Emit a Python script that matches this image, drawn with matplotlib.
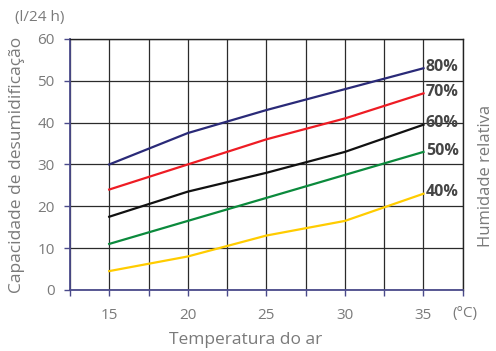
import matplotlib
matplotlib.use("Agg")
import matplotlib.pyplot as plt
import numpy as np

plt.rcParams['font.family'] = ['Open Sans', 'DejaVu Sans']

# temperature (C) and dehumidification capacity (l/24h) per relative humidity
temps = [15, 20, 25, 30, 35]
rh_labels = ['80%', '70%', '60%', '50%', '40%']
cap_80 = [30, 37.5, 43, 48, 53]
cap_70 = [24, 30, 36, 41, 47]
cap_60 = [17.5, 23.5, 28, 33, 39.5]
cap_50 = [11, 16.5, 22, 27.5, 33]
cap_40 = [4.5, 8, 13, 16.5, 23]
series = [cap_80, cap_70, cap_60, cap_50, cap_40]
colors = ['#2a2a78', '#ee1c24', '#111111', '#0b8a3c', '#ffcc00']

TEXT = '#7a7a7a'

fig = plt.figure(figsize=(4.96, 3.51), dpi=100)
ax = fig.add_axes([0.141, 0.174, 0.792, 0.715])

for ys, c, lab in zip(series, colors, rh_labels):
    ax.plot(temps, ys, color=c, lw=1.6, zorder=3)
    ax.text(temps[-1] + 0.15, ys[-1] + 0.3, lab, color='#454545', fontsize=11.5,
            fontweight='bold', va='center', ha='left')

ax.set_xlim(12.5, 37.5)
ax.set_ylim(0, 60)
ax.set_xticks(np.arange(12.5, 37.6, 2.5), minor=True)
ax.set_xticks([15, 20, 25, 30, 35])
ax.set_yticks(np.arange(0, 61, 10))
ax.grid(True, which='both', color='#2b2b2b', lw=0.9, zorder=1)
ax.tick_params(axis='both', which='both', colors='#4a4a8a', labelcolor=TEXT,
               labelsize=11, length=4, width=1)
ax.tick_params(axis='x', which='major', pad=9)
ax.tick_params(axis='y', pad=7)

for side in ['left', 'bottom']:
    ax.spines[side].set_color('#4a4a8a')
    ax.spines[side].set_linewidth(1.3)
for side in ['top', 'right']:
    ax.spines[side].set_color('#222222')
    ax.spines[side].set_linewidth(1)

fig.text(0.03, 0.95, '(l/24 h)', color=TEXT, fontsize=11, ha='left', va='center')
fig.text(0.034, 0.53, 'Capacidade de desumidificação', color=TEXT, fontsize=12.5,
         rotation=90, ha='center', va='center')
fig.text(0.98, 0.5, 'Humidade relativa', color=TEXT, fontsize=12,
         rotation=90, ha='center', va='center')
fig.text(0.496, 0.03, 'Temperatura do ar', color=TEXT, fontsize=12.5,
         ha='center', va='center')
fig.text(0.912, 0.108, '(°C)', color=TEXT, fontsize=11, ha='left', va='center')

fig.savefig('out.png', dpi=100)
